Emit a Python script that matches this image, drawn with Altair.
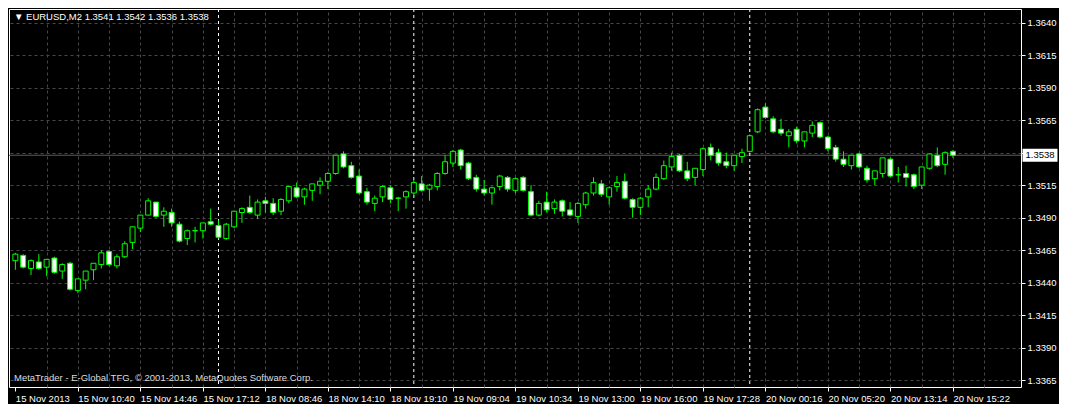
import altair as alt
import pandas as pd

# ---- data (EURUSD M2 candles, 4-digit quotes) ----
open_ = [1.3457, 1.3461, 1.3451, 1.3456, 1.3452, 1.3459, 1.3449, 1.3455, 1.3434, 1.3442,
         1.3450, 1.3454, 1.3464, 1.3453, 1.3460, 1.3471, 1.3482, 1.3492, 1.3502, 1.3492,
         1.3494, 1.3485, 1.3474, 1.3480, 1.3480, 1.3487, 1.3484, 1.3474, 1.3483, 1.3494,
         1.3498, 1.3492, 1.3503, 1.3501, 1.3495, 1.3503, 1.3513, 1.3506, 1.3511, 1.3515,
         1.3518, 1.3524, 1.3539, 1.3530, 1.3522, 1.3510, 1.3501, 1.3506, 1.3513, 1.3505,
         1.3506, 1.3509, 1.3516, 1.3512, 1.3514, 1.3524, 1.3532, 1.3542, 1.3532, 1.3521,
         1.3512, 1.3509, 1.3514, 1.3521, 1.3511, 1.3521, 1.3510, 1.3492, 1.3502, 1.3497,
         1.3503, 1.3496, 1.3491, 1.3500, 1.3509, 1.3516, 1.3506, 1.3514, 1.3518, 1.3504,
         1.3498, 1.3506, 1.3512, 1.3520, 1.3529, 1.3538, 1.3526, 1.3521, 1.3527, 1.3544,
         1.3540, 1.3533, 1.3530, 1.3537, 1.3541, 1.3556, 1.3575, 1.3566, 1.3558, 1.3553,
         1.3558, 1.3549, 1.3555, 1.3563, 1.3552, 1.3544, 1.3535, 1.3530, 1.3539, 1.3528,
         1.3520, 1.3524, 1.3535, 1.3523, 1.3524, 1.3523, 1.3515, 1.3528, 1.3538, 1.3531,
         1.3541]
high = [1.3463, 1.3462, 1.3458, 1.3462, 1.3458, 1.3460, 1.3455, 1.3456, 1.3443, 1.3449,
        1.3455, 1.3465, 1.3465, 1.3462, 1.3472, 1.3483, 1.3492, 1.3505, 1.3502, 1.3498,
        1.3497, 1.3487, 1.3481, 1.3483, 1.3486, 1.3497, 1.3488, 1.3486, 1.3495, 1.3498,
        1.3507, 1.3504, 1.3506, 1.3505, 1.3505, 1.3514, 1.3517, 1.3513, 1.3516, 1.3521,
        1.3525, 1.3538, 1.3541, 1.3533, 1.3527, 1.3513, 1.3507, 1.3515, 1.3515, 1.3506,
        1.3511, 1.3519, 1.3522, 1.3516, 1.3525, 1.3538, 1.3542, 1.3543, 1.3533, 1.3523,
        1.3519, 1.3514, 1.3523, 1.3522, 1.3521, 1.3522, 1.3515, 1.3503, 1.3510, 1.3504,
        1.3504, 1.3502, 1.3502, 1.3510, 1.3521, 1.3519, 1.3514, 1.3522, 1.3524, 1.3505,
        1.3506, 1.3515, 1.3524, 1.3534, 1.3540, 1.3539, 1.3533, 1.3528, 1.3544, 1.3547,
        1.3543, 1.3540, 1.3538, 1.3543, 1.3554, 1.3574, 1.3578, 1.3568, 1.3566, 1.3558,
        1.3560, 1.3556, 1.3564, 1.3564, 1.3553, 1.3546, 1.3541, 1.3538, 1.3540, 1.3530,
        1.3526, 1.3536, 1.3536, 1.3529, 1.3530, 1.3524, 1.3529, 1.3539, 1.3544, 1.3541,
        1.3542]
low = [1.3450, 1.3451, 1.3446, 1.3450, 1.3445, 1.3447, 1.3443, 1.3434, 1.3432, 1.3435,
       1.3442, 1.3451, 1.3453, 1.3451, 1.3459, 1.3466, 1.3479, 1.3492, 1.3490, 1.3483,
       1.3483, 1.3471, 1.3469, 1.3471, 1.3474, 1.3484, 1.3474, 1.3473, 1.3482, 1.3486,
       1.3493, 1.3489, 1.3494, 1.3492, 1.3492, 1.3501, 1.3505, 1.3500, 1.3503, 1.3508,
       1.3512, 1.3523, 1.3528, 1.3520, 1.3508, 1.3500, 1.3495, 1.3502, 1.3501, 1.3495,
       1.3497, 1.3506, 1.3510, 1.3503, 1.3511, 1.3523, 1.3529, 1.3527, 1.3519, 1.3510,
       1.3507, 1.3500, 1.3511, 1.3510, 1.3509, 1.3510, 1.3491, 1.3491, 1.3494, 1.3493,
       1.3491, 1.3491, 1.3486, 1.3497, 1.3507, 1.3506, 1.3500, 1.3510, 1.3504, 1.3490,
       1.3492, 1.3498, 1.3511, 1.3519, 1.3526, 1.3525, 1.3518, 1.3515, 1.3522, 1.3534,
       1.3530, 1.3528, 1.3526, 1.3532, 1.3540, 1.3555, 1.3566, 1.3555, 1.3553, 1.3544,
       1.3547, 1.3544, 1.3552, 1.3551, 1.3541, 1.3533, 1.3529, 1.3527, 1.3528, 1.3517,
       1.3515, 1.3521, 1.3521, 1.3517, 1.3514, 1.3512, 1.3512, 1.3527, 1.3529, 1.3523,
       1.3536]
close = [1.3462, 1.3452, 1.3457, 1.3451, 1.3458, 1.3448, 1.3454, 1.3435, 1.3443, 1.3449,
         1.3455, 1.3463, 1.3454, 1.3460, 1.3470, 1.3483, 1.3492, 1.3503, 1.3491, 1.3495,
         1.3486, 1.3472, 1.3480, 1.3480, 1.3486, 1.3485, 1.3475, 1.3485, 1.3495, 1.3497,
         1.3494, 1.3502, 1.3501, 1.3494, 1.3504, 1.3514, 1.3506, 1.3512, 1.3516, 1.3518,
         1.3524, 1.3538, 1.3529, 1.3521, 1.3509, 1.3502, 1.3505, 1.3514, 1.3504, 1.3505,
         1.3510, 1.3517, 1.3511, 1.3515, 1.3524, 1.3533, 1.3541, 1.3530, 1.3520, 1.3512,
         1.3509, 1.3513, 1.3522, 1.3512, 1.3520, 1.3511, 1.3492, 1.3501, 1.3496, 1.3502,
         1.3495, 1.3492, 1.3501, 1.3509, 1.3517, 1.3508, 1.3513, 1.3517, 1.3505, 1.3498,
         1.3505, 1.3512, 1.3521, 1.3530, 1.3537, 1.3526, 1.3520, 1.3528, 1.3543, 1.3538,
         1.3532, 1.3530, 1.3538, 1.3540, 1.3553, 1.3573, 1.3567, 1.3556, 1.3555, 1.3556,
         1.3549, 1.3556, 1.3561, 1.3552, 1.3543, 1.3535, 1.3531, 1.3538, 1.3529, 1.3519,
         1.3526, 1.3536, 1.3522, 1.3523, 1.3521, 1.3514, 1.3529, 1.3539, 1.3530, 1.3540,
         1.3538]

time_labels = ["15 Nov 2013", "15 Nov 10:40", "15 Nov 14:46", "15 Nov 17:12",
               "18 Nov 08:46", "18 Nov 14:10", "18 Nov 19:10", "19 Nov 09:04",
               "19 Nov 10:34", "19 Nov 13:00", "19 Nov 16:00", "19 Nov 17:28",
               "20 Nov 00:16", "20 Nov 05:20", "20 Nov 13:14", "20 Nov 15:22"]
price_ticks = [1.3365, 1.3390, 1.3415, 1.3440, 1.3465, 1.3490, 1.3515,
               1.3540, 1.3565, 1.3590, 1.3615, 1.3640]
separators = [26, 51, 94]   # candle index where a new day starts

symbol = "EURUSD,M2"
credit = "MetaTrader - E-Global TFG, \u00a9 2001-2013, MetaQuotes Software Corp."

# ---- chart ----
n = len(close)
df = pd.DataFrame({"i": list(range(n)), "open": open_, "high": high,
                   "low": low, "close": close})

W, H = 1012, 378
LIME = "#00ff00"
GRID = "#474747"
FONT = "Liberation Sans"
FS = 9.5

xscale = alt.Scale(domain=[-0.175, 128.075], nice=False, zero=False)
yscale = alt.Scale(domain=[1.33599, 1.36504], nice=False, zero=False)

label_expr = "[" + ",".join("'%s'" % t for t in time_labels) + "][round(datum.value/8)]"

x_axis_labels = alt.Axis(orient="bottom", values=list(range(0, n, 8)), labelExpr=label_expr,
                         labelAlign="left", labelColor="white", labelFont=FONT,
                         labelFontSize=FS, labelPadding=2, labelFlush=False,
                         labelOverlap=False, tickColor="white", tickSize=4,
                         domain=False, grid=False, title=None)
x_axis_grid = alt.Axis(orient="top", values=list(range(4, 128, 4)), labels=False,
                       ticks=False, domain=False, grid=True, gridColor=GRID,
                       gridDash=[3, 3], gridWidth=1, title=None)
y_axis = alt.Axis(orient="right", values=price_ticks, format=".4f", labelColor="white",
                  labelFont=FONT, labelFontSize=FS, labelPadding=2, tickColor="white",
                  tickSize=4, domain=False, grid=True, gridColor=GRID, gridDash=[3, 3],
                  gridWidth=1, labelOverlap=False, labelBound=False, title=None)

last = pd.DataFrame({"p": [close[-1]], "t": ["%.4f" % close[-1]]})

price_line = alt.Chart(last).mark_rule(color="#5c5c5c", strokeWidth=1).encode(
    y=alt.Y("p:Q", scale=yscale, axis=None))

seps = alt.Chart(pd.DataFrame({"i": separators})).mark_rule(
    color="white", strokeDash=[3, 3], strokeWidth=1).encode(
    x=alt.X("i:Q", scale=xscale, axis=None))

wicks = alt.Chart(df).mark_rule(color=LIME, strokeWidth=1).encode(
    x=alt.X("i:Q", scale=xscale, axis=x_axis_labels),
    y=alt.Y("low:Q", scale=yscale, axis=y_axis),
    y2="high:Q")

bodies = alt.Chart(df).mark_bar(size=5, stroke=LIME, strokeWidth=1, opacity=1).encode(
    x=alt.X("i:Q", scale=xscale, axis=x_axis_grid),
    y=alt.Y("open:Q", scale=yscale, axis=None),
    y2="close:Q",
    fill=alt.condition("datum.open > datum.close", alt.value("white"), alt.value("black")))

box = alt.Chart(last).mark_point(
    shape="M-1,-0.37L1,-0.37L1,0.37L-1,0.37Z", filled=True, fill="white",
    opacity=1, size=1225, strokeWidth=0).encode(
    x=alt.value(W + 19), y=alt.Y("p:Q", scale=yscale, axis=None))

box_text = alt.Chart(last).mark_text(
    color="black", font=FONT, fontSize=FS, align="center", baseline="middle").encode(
    x=alt.value(W + 19), y=alt.Y("p:Q", scale=yscale, axis=None), text="t:N")

head = "\u25bc  %s  %.4f %.4f %.4f %.4f" % (symbol, open_[-1], high[-1], low[-1], close[-1])
title_text = alt.Chart(pd.DataFrame({"t": [head]})).mark_text(
    align="left", baseline="middle", color="white", font=FONT, fontSize=FS).encode(
    x=alt.value(5), y=alt.value(8), text="t:N")

credit_text = alt.Chart(pd.DataFrame({"t": [credit]})).mark_text(
    align="left", baseline="middle", color="#dcdcdc", font=FONT, fontSize=FS).encode(
    x=alt.value(5), y=alt.value(369), text="t:N")

chart = alt.layer(
    price_line, seps, wicks, bodies, box, box_text, title_text, credit_text
).resolve_axis(
    x="independent", y="independent"
).properties(
    width=W, height=H, background="black",
    padding={"left": 1, "top": 1, "right": 38, "bottom": 17},
    autosize=alt.AutoSizeParams(type="none"),
).configure_view(stroke="white", strokeWidth=1)

chart.save("out.html", embed_options={"renderer": "svg", "actions": False})
